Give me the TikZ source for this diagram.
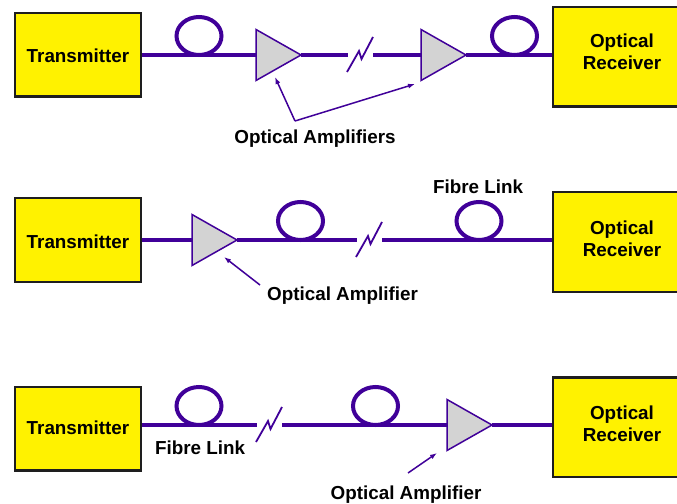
\documentclass[tikz,border=0pt]{standalone}
\usepackage{fontspec}
\setmainfont{Liberation Sans}
\usetikzlibrary{shapes.geometric,arrows.meta,backgrounds}
\definecolor{fib}{RGB}{64,0,153}
\definecolor{ampgray}{RGB}{211,211,211}
\definecolor{boxline}{RGB}{30,30,30}
\begin{document}
\begin{tikzpicture}[x=1bp,y=-1bp,
  tbox/.style={rectangle, draw=boxline, fill=yellow, line width=2.5bp,
    minimum width=125.5bp, minimum height=83.5bp, inner sep=0pt, outer sep=0pt},
  rbox/.style={tbox, minimum width=138bp, minimum height=99.5bp},
  amp/.style={isosceles triangle, isosceles triangle stretches, shape border rotate=0,
    draw=fib, fill=ampgray, line width=1.5bp, minimum width=51bp, minimum height=45bp,
    inner sep=0pt, outer sep=0pt, anchor=apex},
  fibre/.style={draw=fib, line width=4bp, line cap=butt},
  fibrering/.style={ellipse, draw=fib, line width=4bp, minimum width=45bp,
    minimum height=38bp, inner sep=0pt},
  lbl/.style={font=\fontsize{18.9}{22}\selectfont\bfseries, inner sep=0pt, anchor=base},
  ptr/.style={draw=fib, line width=1.5bp, -{Latex[length=7bp,width=5bp]}},
  brkline/.style={draw=fib, line width=1.8bp, line join=miter},
  fibrebreak/.pic={
    \coordinate (-l) at (-12,0);
    \coordinate (-r) at (13,0);
    \draw[brkline] (-13,17) -- (-1,-4) -- (1.5,4) -- (13,-18);
  }
]
\useasboundingbox (0,0) rectangle (677,504);

% ---------------- Row 1 ----------------
\node[tbox] (tx1) at (78,55) {};
\node[lbl] at (78,62.7) {Transmitter};
\node[rbox] (rx1) at (622,57) {};
\node[lbl] at (622,47.5) {Optical};
\node[lbl] at (622,70) {Receiver};
\pic (bk1) at (360,55) {fibrebreak};
\node[amp] (a1) at (301,55) {};
\node[amp] (a2) at (466,55) {};
\node[fibrering] (f1) at (199,36) {};
\node[fibrering] (f2) at (514.5,36) {};
\coordinate (p1) at (295,121);
\coordinate (h1) at (275,77);
\coordinate (h2) at (415,84);
\draw[ptr] (p1) -- (h1);
\draw[ptr] (p1) -- (h2);
\node[lbl] (l1) at (315,144) {Optical Amplifiers};

% ---------------- Row 2 ----------------
\node[tbox] (tx2) at (78,240) {};
\node[lbl] at (78,249) {Transmitter};
\node[rbox] (rx2) at (622,242) {};
\node[lbl] at (622,235) {Optical};
\node[lbl] at (622,257) {Receiver};
\pic (bk2) at (369,240) {fibrebreak};
\node[amp] (a3) at (237,240) {};
\node[fibrering] (f3) at (300.5,221) {};
\node[fibrering] (f4) at (479,221) {};
\node[lbl] (l2) at (478,193.3) {Fibre Link};
\coordinate (p2) at (260,285);
\coordinate (h3) at (224,257);
\draw[ptr] (p2) -- (h3);
\node[lbl] (l3) at (342.5,300) {Optical Amplifier};

% ---------------- Row 3 ----------------
\node[tbox] (tx3) at (78,428.5) {};
\node[lbl] at (78,434) {Transmitter};
\node[rbox] (rx3) at (622,427) {};
\node[lbl] at (622,419) {Optical};
\node[lbl] at (622,441) {Receiver};
\pic (bk3) at (269,425) {fibrebreak};
\node[amp] (a4) at (492,425) {};
\node[fibrering] (f5) at (199,406) {};
\node[fibrering] (f6) at (375.5,406) {};
\node[lbl] (l4) at (200,454) {Fibre Link};
\coordinate (p3) at (408,473);
\coordinate (h4) at (437,453);
\draw[ptr] (p3) -- (h4);
\node[lbl] (l5) at (406,499) {Optical Amplifier};

% ---------------- fibre lines (behind the nodes) ----------------
\begin{scope}[on background layer]
  \fill[white] (0,0) rectangle (677,504);
  \draw[fibre] (tx1.east |- a1.west) -- (a1.west);
  \draw[fibre] (a1.apex) -- (bk1-l);
  \draw[fibre] (bk1-r) -- (a2.west);
  \draw[fibre] (a2.apex) -- (rx1.west |- a2.apex);
  \draw[fibre] (tx2.east |- a3.west) -- (a3.west);
  \draw[fibre] (a3.apex) -- (bk2-l);
  \draw[fibre] (bk2-r) -- (rx2.west |- bk2-r);
  \draw[fibre] (tx3.east |- bk3-l) -- (bk3-l);
  \draw[fibre] (bk3-r) -- (a4.west);
  \draw[fibre] (a4.apex) -- (rx3.west |- a4.apex);
\end{scope}
\end{tikzpicture}
\end{document}
